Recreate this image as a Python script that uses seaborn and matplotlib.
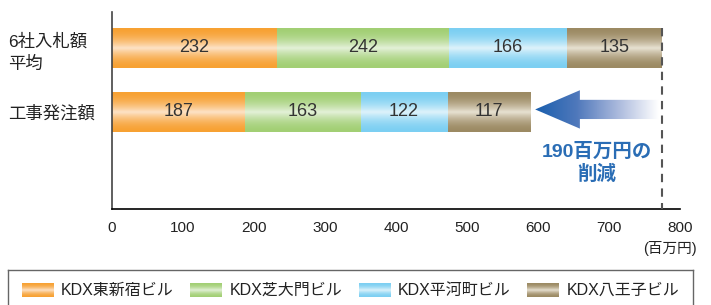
import numpy as np
import pandas as pd
import seaborn as sns
import matplotlib.pyplot as plt
from matplotlib.colors import LinearSegmentedColormap
from matplotlib.patches import Polygon

# chart data
categories = ['6社入札額\n平均', '工事発注額']
buildings = ['KDX東新宿ビル', 'KDX芝大門ビル', 'KDX平河町ビル', 'KDX八王子ビル']
shinjuku = [232, 187]
shibadaimon = [242, 163]
hirakawacho = [166, 122]
hachioji = [135, 117]
reduction_label = '190百万円の\n削減'
unit_label = '(百万円)'
xticks = [0, 100, 200, 300, 400, 500, 600, 700, 800]

# edge colour / centre highlight of each gradient bar
edge_colors = ['#f7a133', '#a2cf74', '#7ccff2', '#9c8a63']
light_colors = ['#fde3c8', '#e4f1d9', '#dff3fb', '#e8e2d3']

sns.set_style('white')
plt.rcParams['font.family'] = ['Liberation Sans', 'Noto Sans CJK JP']

values = [shinjuku, shibadaimon, hirakawacho, hachioji]
rows = []
for b, v in zip(buildings, values):
    for c, x in zip(categories, v):
        rows.append({'category': c, 'building': b, 'value': x})
df = pd.DataFrame(rows)
df['cum'] = df.groupby('category')['value'].cumsum()
df['start'] = df['cum'] - df['value']

fig = plt.figure(figsize=(7.11, 3.05), dpi=100)
ax = fig.add_axes([112 / 711, 96 / 305, 568 / 711, 197 / 305])

# shading profile: dark edges, light middle
s = np.linspace(0, 1, 64)
profile = (1 - np.abs(2 * s - 1)) ** 1.8
profile = profile.reshape(-1, 1)

# stacked bars: longest cumulative first so shorter ones sit on top
bar_height = 0.625
for i in reversed(range(len(buildings))):
    sub = df[df.building == buildings[i]]
    n0 = len(ax.patches)
    sns.barplot(data=sub, x='cum', y='category', order=categories, orient='h',
                color=edge_colors[i], width=bar_height, saturation=1, ax=ax)
    cmap = LinearSegmentedColormap.from_list('', [edge_colors[i], light_colors[i]])
    for p, (_, r) in zip(ax.patches[n0:], sub.iterrows()):
        y0, h = p.get_y(), p.get_height()
        ax.imshow(profile, cmap=cmap, vmin=0, vmax=1, aspect='auto',
                  extent=(r['start'], p.get_x() + p.get_width(), y0 + h, y0),
                  interpolation='bicubic', zorder=2)
        ax.text((r['start'] + r['cum']) / 2, y0 + h / 2, f"{r['value']}",
                ha='center', va='center', fontsize=13, color='#333333', zorder=4)

totals = df.groupby('category', sort=False)['value'].sum()
bid_total = totals[categories[0]]
order_total = totals[categories[1]]

ylim_bottom = 2.516
ax.set_xlim(0, 800)
ax.set_ylim(ylim_bottom, -0.5625)

# dashed reference line at the bid total
ax.vlines(bid_total, -bar_height / 2, ylim_bottom, colors='#555555',
          linestyles=(0, (4, 3)), linewidth=1.5, zorder=5, clip_on=False)

# gradient arrow from bid total toward order total
tip = order_total + 7
tail = bid_total - 5
head = tip + 63
yc = 1 - 0.04
hh, sh = 0.30, 0.15
arrow = Polygon([(tip, yc), (head, yc - hh), (head, yc - sh), (tail, yc - sh),
                 (tail, yc + sh), (head, yc + sh), (head, yc + hh)],
                closed=True, facecolor='none', edgecolor='none')
ax.add_patch(arrow)
arrow_cmap = LinearSegmentedColormap.from_list('', ['#1a5fae', '#4f78bb', '#a9b8dc', '#ffffff'])
img = ax.imshow(np.linspace(0, 1, 128).reshape(1, -1), cmap=arrow_cmap, aspect='auto',
                extent=(tip, tail, yc + hh, yc - hh), interpolation='bicubic', zorder=3)
img.set_clip_path(arrow)
ax.set_xlim(0, 800)
ax.set_ylim(ylim_bottom, -0.5625)

ax.text((tip + tail) / 2, 1.8, reduction_label, ha='center', va='center',
        color='#2a6db5', fontsize=14, fontweight='bold', linespacing=1.25)

# axes styling
ax.set_xlabel('')
ax.set_ylabel('')
ax.set_xticks(xticks)
ax.tick_params(axis='x', direction='in', length=5, width=1, color='black',
               pad=9, labelsize=11, labelcolor='#222222')
ax.tick_params(axis='y', length=0, pad=75, labelsize=12.5, labelcolor='#222222')
for lab in ax.get_yticklabels():
    lab.set_horizontalalignment('left')
    lab.set_linespacing(1.45)
for side in ['top', 'right']:
    ax.spines[side].set_visible(False)
ax.spines['left'].set_color('#444444')
ax.spines['left'].set_linewidth(1.2)
ax.spines['bottom'].set_color('black')
ax.spines['bottom'].set_linewidth(1.2)

fig.text(697 / 711, 1 - 248 / 305, unit_label, ha='right', va='center',
         fontsize=10.5, color='#222222')

# legend box
lax = fig.add_axes([8 / 711, -7 / 305, 685 / 711, 42 / 305])
lax.set_xlim(8, 693)
lax.set_ylim(312, 270)
lax.set_xticks([])
lax.set_yticks([])
for sp in lax.spines.values():
    sp.set_color('#666666')
    sp.set_linewidth(1)
for i, b in enumerate(buildings):
    cmap = LinearSegmentedColormap.from_list('', [edge_colors[i], light_colors[i]])
    x0 = 22 + i * 168.5
    lax.imshow(profile, cmap=cmap, vmin=0, vmax=1, aspect='auto',
               extent=(x0, x0 + 32, 297, 283), interpolation='bicubic')
    lax.text(x0 + 39, 290, b, ha='left', va='center', fontsize=11.5, color='#222222')
lax.set_xlim(8, 693)
lax.set_ylim(312, 270)

fig.savefig('out.png', dpi=100)
